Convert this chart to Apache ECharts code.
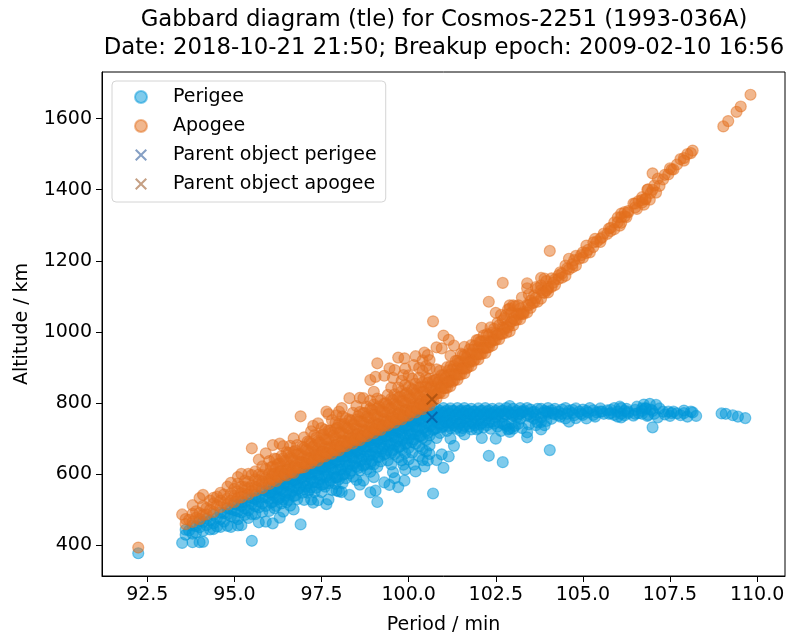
<!DOCTYPE html>
<html>
<head>
<meta charset="utf-8">
<title>Gabbard diagram</title>
<script src="https://cdn.jsdelivr.net/npm/echarts@6/dist/echarts.min.js"></script>
<style>
  html, body { margin: 0; padding: 0; background: #ffffff; }
  #chart { width: 790px; height: 640px; }
</style>
</head>
<body>
<div id="chart"></div>
<script>
// Fragment perigee altitudes (km), grouped by orbital period (min)
const perigeeGroups = [
  [92.24,[378]],
  [93.5,[407]],[93.6,[444,430]],[93.7,[442]],[93.8,[456,433,409]],[93.9,[454,436]],
  [94.0,[468,451,409]],[94.1,[466,441,410]],[94.2,[475,457]],[94.3,[470,445]],[94.4,[486,462,446]],
  [94.5,[477,453]],[94.6,[492,474,452]],[94.7,[491,467]],[94.8,[505,488,455]],[94.9,[502,482,452]],
  [95.0,[516,499,479]],[95.1,[514,496,474,456]],[95.2,[523,511,493,457]],[95.3,[522,504,486]],[95.4,[535,517,499,477]],
  [95.5,[533,517,488,413]],[95.6,[542,530,510,488]],[95.7,[539,523,507,465]],[95.8,[555,536,518,494]],[95.9,[553,535,511,467]],
  [96.0,[561,549,531,497]],[96.1,[560,542,522,462]],[96.2,[573,557,535,511]],[96.3,[573,556,534,478]],[96.4,[573,553,529,495]],
  [96.5,[587,570,548,522]],[96.6,[586,568,544,512]],[96.7,[598,583,563,539,501]],[96.8,[594,576,556,530]],[96.9,[604,587,567,459]],
  [97.0,[612,600,582,558,528]],[97.1,[610,594,574,548]],[97.2,[619,605,587,563,529]],[97.26,[520]],[97.3,[617,600,578,550]],
  [97.4,[632,617,599,577,527]],[97.5,[631,616,596,570,550]],[97.6,[640,629,613,591,565]],[97.64,[516]],[97.7,[638,621,601,575,529]],
  [97.8,[650,634,614,590,556]],[97.9,[651,635,615,591,573]],[97.93,[554]],[98.0,[661,650,634,612,586,552]],[98.08,[550]],
  [98.1,[659,643,623,599,575]],[98.2,[667,653,635,613,589]],[98.3,[666,648,628,602,542]],[98.4,[679,665,647,625,593]],
  [98.5,[680,664,646,622,584]],[98.6,[690,677,659,637,611,571]],[98.7,[688,670,650,624,582]],[98.8,[697,682,664,642,614]],
  [98.9,[695,677,655,629,607,549]],[99.0,[708,696,678,656,628,592]],[99.05,[554]],[99.1,[709,693,673,649,621,522]],
  [99.2,[719,704,686,664,636]],[99.3,[717,699,679,655,577]],[99.4,[725,711,691,669,639]],[99.45,[570]],
  [99.5,[724,706,686,660,628]],[99.55,[606]],[99.6,[737,723,705,683,657,589]],[99.7,[737,720,700,676,648,564]],
  [99.8,[748,735,717,695,669,639]],[99.85,[627]],[99.88,[582]],[99.9,[745,729,709,685,659,613]],
  [100.0,[755,740,722,700,674,642]],[100.1,[753,735,715,691,661]],[100.15,[627]],[100.2,[766,752,734,712,686,608]],
  [100.3,[766,751,731,707,679,651]],[100.4,[777,766,750,728,702,670,640]],[100.45,[622]],[100.5,[776,762,744,722,696,664]],
  [100.55,[639]],[100.6,[784,773,757,735,709,681,657]],
  [100.7,[781,766,748,725,546]],[100.8,[784,770,752,730,702,640]],[100.9,[778,762,741,716]],[100.95,[656]],
  [101.0,[786,772,756,736,618]],[101.1,[780,764,745,722]],[101.15,[650]],[101.2,[785,770,752,730,700]],
  [101.3,[778,760,738,680]],[101.4,[786,771,754,733]],[101.5,[780,764,745,722]],[101.6,[786,772,756,736,712]],
  [101.7,[779,762,742]],[101.8,[784,768,750,726]],[101.9,[777,760,738]],[102.0,[785,770,752,730]],
  [102.1,[779,762,744,702]],[102.2,[786,771,752]],[102.3,[780,764,746,652]],[102.4,[784,768,748]],
  [102.5,[778,760,700]],[102.6,[785,770,746]],[102.7,[779,762,742,634]],[102.8,[786,768,736]],
  [102.9,[792,772,728,719]],[103.0,[784,765,728]],[103.1,[778,760]],[103.2,[786,770,756]],[103.3,[780,775]],
  [103.4,[786,765,718,704]],[103.5,[782,762]],[103.6,[776,756]],[103.7,[784,746]],[103.8,[784,760,747,726]],
  [103.9,[778,738]],[104.0,[786,770,775]],[104.05,[668]],[104.1,[780,756]],[104.2,[784,768]],[104.3,[776,766]],
  [104.4,[782,770]],[104.5,[786,757]],[104.6,[778,748]],[104.7,[781,772]],[104.8,[785,758]],[104.9,[776]],
  [105.0,[782,767]],[105.1,[778,757]],[105.2,[786]],[105.3,[767,780]],[105.4,[774]],[105.5,[776,785]],
  [105.6,[770]],[105.7,[780]],[105.8,[781,772]],[105.9,[767,786]],[106.0,[762,776]],[106.06,[790]],
  [106.1,[786,770,760]],[106.2,[778,766]],[106.25,[784]],[106.3,[776,772]],[106.45,[765]],[106.5,[781,770]],
  [106.55,[790]],[106.6,[772]],[106.7,[785,778,770]],[106.75,[796]],[106.8,[786,784]],[106.85,[764]],
  [106.87,[767]],[106.92,[798]],[106.95,[782]],[107.0,[732,778]],[107.05,[770]],[107.1,[795]],[107.15,[760]],
  [107.2,[785]],[107.3,[776]],[107.35,[768]],[107.45,[776]],[107.5,[764]],[107.55,[772]],[107.6,[776]],
  [107.7,[771]],[107.8,[766]],[107.9,[779,772]],[108.0,[762]],[108.1,[776]],[108.15,[774]],[108.25,[764]],
  [108.98,[771]],[109.1,[770]],[109.3,[766]],[109.45,[762]],[109.66,[758]]
];

// Further perigee readings lying between the columns above
const perigeeGroupsHalfStep = [
  [96.05,[552,520]],[96.15,[548,505]],[96.25,[565,530]],[96.35,[560,518]],[96.45,[578,540]],
  [96.55,[574,528]],[96.65,[590,552]],[96.75,[584,540]],[96.85,[598,560]],[96.95,[592,548]],
  [97.05,[606,566]],[97.15,[602,556]],[97.25,[616,578]],[97.35,[610,562]],[97.45,[624,586]],
  [97.55,[620,572]],[97.65,[636,596]],[97.75,[630,582]],[97.85,[645,604]],[97.95,[640,592]],
  [98.05,[654,614]],[98.15,[650,600]],[98.25,[664,622]],[98.35,[660,610]],[98.45,[674,632]],
  [98.55,[668,618]],[98.65,[684,642]],[98.75,[678,628]],[98.85,[694,652]],[98.95,[688,638]],
  [99.05,[702,662]],[99.15,[698,648]],[99.25,[712,672]],[99.35,[708,658]],[99.45,[722,682]],
  [99.55,[716,668]],[99.65,[732,692]],[99.75,[726,678]],[99.85,[742,702]],[99.95,[736,688]],
  [100.05,[750,712]],[100.15,[746,698]],[100.25,[760,722]],[100.35,[756,708]],[100.45,[770,732]],
  [100.55,[764,716]],[100.65,[770,738]],[100.75,[760,728]],[100.85,[774,744]],[100.95,[766,732]],
  [101.05,[776,748]],[101.15,[768,736]],[101.25,[778,744]],[101.35,[766,728]],[101.45,[776,742]],
  [101.55,[768,730]],[101.65,[778,748]],[101.75,[770,734]],[101.85,[776,744]],[101.95,[766,726]],
  [102.05,[776,740]],[102.15,[768,732]],[102.25,[776,738]],[102.35,[770,728]],[102.45,[774,742]],
  [102.55,[768,734]],[102.65,[776,722]],[102.75,[770,740]],[102.85,[776,726]],[102.95,[768,744]],
  [103.05,[774,736]],[103.15,[768,742]],[103.25,[776,730]],[103.45,[770,740]],[103.55,[774]],
  [103.65,[768,738]],[103.85,[772]],[103.95,[776,750]],[104.15,[772]],[104.35,[762]],[104.55,[770]],
  [104.75,[766]],[104.95,[770]],[105.15,[774]],[105.35,[762]],[105.55,[776]],[105.75,[770]]
];

// Fragment apogee altitudes (km), grouped by orbital period (min)
const apogeeGroups = [
  [92.24,[394]],
  [93.5,[487]],[93.6,[460,474]],[93.7,[472]],[93.8,[466,489,513]],[93.9,[478,496]],
  [94.0,[474,491,533]],[94.1,[486,511,542]],[94.2,[487,505]],[94.3,[500,526]],[94.4,[494,518,534]],
  [94.5,[513,537]],[94.6,[508,526,548]],[94.7,[519,543]],[94.8,[515,532,565]],[94.9,[526,546,576]],
  [95.0,[522,539,559]],[95.1,[534,552,574,592]],[95.2,[535,547,565,601]],[95.3,[546,564,582]],[95.4,[543,561,579,601]],
  [95.5,[553,569,598,673]],[95.6,[554,566,586,608]],[95.7,[567,583,599,641]],[95.8,[561,580,598,622]],[95.9,[573,591,615,659]],
  [96.0,[573,585,603,637]],[96.1,[584,602,622,682]],[96.2,[581,597,619,643]],[96.3,[591,608,630,686]],[96.4,[601,621,645,679]],
  [96.5,[597,614,636,662]],[96.6,[606,624,648,680]],[96.7,[604,619,639,663,701]],[96.8,[618,636,656,682]],[96.9,[618,635,655,763]],
  [97.0,[620,632,650,674,704]],[97.1,[630,646,666,692]],[97.2,[631,645,663,687,721]],[97.26,[736]],[97.3,[643,660,682,710]],
  [97.4,[638,653,671,693,743]],[97.5,[649,664,684,710,730]],[97.6,[650,661,677,699,725]],[97.64,[776]],[97.7,[660,677,697,723,769]],
  [97.8,[658,674,694,718,752]],[97.9,[667,683,703,727,745]],[97.93,[766]],[98.0,[667,678,694,716,742,776]],[98.08,[786]],
  [98.1,[679,695,715,739,763]],[98.2,[679,693,711,733,757]],[98.3,[690,708,728,754,814]],[98.4,[687,701,719,741,773]],
  [98.5,[696,712,730,754,792]],[98.6,[696,709,727,749,775,815]],[98.7,[708,726,746,772,814]],[98.8,[707,722,740,762,790]],
  [98.9,[719,737,759,785,807,865]],[99.0,[716,728,746,768,796,832]],[99.05,[874]],[99.1,[725,741,761,785,813,912]],
  [99.2,[725,740,758,780,808]],[99.3,[737,755,775,799,877]],[99.4,[737,751,771,793,823]],[99.45,[898]],
  [99.5,[748,766,786,812,844]],[99.55,[871]],[99.6,[745,759,777,799,825,893]],[99.7,[755,772,792,816,844,928]],
  [99.8,[754,767,785,807,833,863]],[99.85,[879]],[99.88,[926]],[99.9,[765,781,801,825,851,897]],
  [100.0,[765,780,798,820,846,878]],[100.1,[777,795,815,839,869]],[100.15,[907]],[100.2,[774,788,806,828,854,932]],
  [100.3,[784,799,819,843,871,899]],[100.4,[783,794,810,832,858,890,920]],[100.45,[942]],[100.5,[792,806,824,846,872,904]],
  [100.55,[935]],[100.6,[794,805,821,843,869,897,921]],
  [100.7,[807,822,840,863,1030]],[100.8,[813,827,845,867,895,957]],[100.9,[829,845,866,891]],[100.95,[954]],
  [101.0,[828,842,858,878,990]],[101.1,[843,859,878,901]],[101.15,[978]],[101.2,[848,863,881,903,933]],
  [101.3,[864,882,904,962]],[101.4,[866,881,898,919]],[101.5,[881,897,916,939]],[101.6,[884,898,914,934,958]],
  [101.7,[901,918,938]],[101.8,[905,921,939,963]],[101.9,[922,939,961]],[102.0,[923,938,956,978]],
  [102.1,[939,956,974,1012]],[102.2,[941,956,975]],[102.3,[957,973,991,1085]],[102.4,[962,978,998]],
  [102.5,[978,996,1054]],[102.6,[980,995,1019]],[102.7,[996,1013,1033,1138]],[102.8,[998,1016,1048]],
  [102.9,[1002,1022,1066,1075]],[103.0,[1019,1038,1075]],[103.1,[1034,1052]],[103.2,[1036,1052,1066]],[103.3,[1051,1056]],
  [103.4,[1055,1076,1123,1137]],[103.5,[1068,1088]],[103.6,[1083,1103]],[103.7,[1085,1123]],[103.8,[1094,1118,1131,1152]],
  [103.9,[1110,1150]],[104.0,[1111,1127,1122]],[104.05,[1228]],[104.1,[1127,1151]],[104.2,[1132,1148]],[104.3,[1149,1159]],
  [104.4,[1153,1165]],[104.5,[1158,1187]],[104.6,[1176,1206]],[104.7,[1182,1191]],[104.8,[1187,1214]],[104.9,[1206]],
  [105.0,[1209,1224]],[105.1,[1222,1243]],[105.2,[1224]],[105.3,[1252,1239]],[105.4,[1254]],[105.5,[1262,1253]],
  [105.6,[1277]],[105.7,[1276]],[105.8,[1284,1293]],[105.9,[1308,1289]],[106.0,[1322,1308]],[106.06,[1299]],
  [106.1,[1307,1323,1333]],[106.2,[1325,1337]],[106.25,[1323]],[106.3,[1336,1340]],[106.45,[1361]],[106.5,[1350,1361]],
  [106.55,[1346]],[106.6,[1368]],[106.7,[1364,1371,1379]],[106.75,[1358]],[106.8,[1373,1375]],[106.85,[1400]],
  [106.87,[1401]],[106.92,[1372]],[106.95,[1391]],[107.0,[1446,1400]],[107.05,[1412]],[107.1,[1392]],[107.15,[1431]],
  [107.2,[1411]],[107.3,[1429]],[107.35,[1442]],[107.45,[1443]],[107.5,[1460]],[107.55,[1457]],[107.6,[1457]],
  [107.7,[1471]],[107.8,[1486]],[107.9,[1482,1489]],[108.0,[1500]],[108.1,[1503]],[108.15,[1510]],
  [109.03,[1578]],[109.17,[1593]],[109.41,[1619]],[109.53,[1634]],[109.81,[1667]]
];

// Further apogee readings lying between the columns above
const apogeeGroupsHalfStep = [
  [96.05,[588,620]],[96.15,[601,644]],[96.25,[594,629]],[96.35,[609,651]],[96.45,[600,638]],
  [96.55,[614,660]],[96.65,[607,645]],[96.75,[623,667]],[96.85,[619,657]],[96.95,[634,678]],
  [97.05,[630,670]],[97.15,[644,690]],[97.25,[639,677]],[97.35,[655,703]],[97.45,[651,689]],
  [97.55,[664,712]],[97.65,[658,698]],[97.75,[674,722]],[97.85,[668,709]],[97.95,[683,731]],
  [98.05,[678,718]],[98.15,[692,742]],[98.25,[688,730]],[98.35,[701,751]],[98.45,[697,739]],
  [98.55,[713,763]],[98.65,[706,748]],[98.75,[722,772]],[98.85,[716,758]],[98.95,[731,781]],
  [99.05,[727,767]],[99.15,[740,790]],[99.25,[736,776]],[99.35,[750,800]],[99.45,[745,785]],
  [99.55,[761,809]],[99.65,[755,795]],[99.75,[770,818]],[99.85,[764,804]],[99.95,[780,828]],
  [100.05,[775,813]],[100.15,[789,837]],[100.25,[785,823]],[100.35,[798,846]],[100.45,[794,832]],
  [100.55,[809,857]],[100.65,[813,845]],[100.75,[832,864]],[100.85,[828,858]],[100.95,[845,879]],
  [101.05,[843,871]],[101.15,[860,892]],[101.25,[860,894]],[101.35,[881,919]],[101.45,[880,914]],
  [101.55,[898,936]],[101.65,[897,927]],[101.75,[915,951]],[101.85,[918,950]],[101.95,[937,977]],
  [102.05,[937,973]],[102.15,[954,990]],[102.25,[956,994]],[102.35,[971,1013]],[102.45,[977,1009]],
  [102.55,[992,1026]],[102.65,[994,1048]],[102.75,[1009,1039]],[102.85,[1013,1063]],[102.95,[1030,1054]],
  [103.05,[1034,1072]],[103.15,[1049,1075]],[103.25,[1051,1097]],[103.45,[1075,1105]],[103.55,[1081]],
  [103.65,[1096,1126]],[103.85,[1111]],[103.95,[1117,1143]],[104.15,[1139]],[104.35,[1168]],[104.55,[1179]],
  [104.75,[1202]],[104.95,[1216]],[105.15,[1231]],[105.35,[1262]],[105.55,[1266]],[105.75,[1291]]
];

// Parent object (Cosmos-2251) at the breakup epoch
const parentPeriod = [100.67];
const parentPerigee = [760];
const parentApogee = [811];

// Axis tick positions
const periodTicks = [92.5, 95.0, 97.5, 100.0, 102.5, 105.0, 107.5, 110.0];
const altitudeTicks = [400, 600, 800, 1000, 1200, 1400, 1600];

const FONT = 'DejaVu Sans';
const BLUE = '#0098da';
const ORANGE = '#e4701e';
const CROSS_BLUE = '#0b3f8a';
const CROSS_ORANGE = '#8c3f08';
// Filled "x" glyph used for the parent object markers
const CROSS = 'path://M0,1.2L1.2,0L5,3.8L8.8,0L10,1.2L6.2,5L10,8.8L8.8,10L5,6.2L1.2,10L0,8.8L3.8,5Z';

function flatten(...groupLists) {
  const pts = [];
  groupLists.forEach(groups => groups.forEach(([p, alts]) => alts.forEach(a => pts.push([p, a]))));
  return pts;
}

const perigeePoints = flatten(perigeeGroups, perigeeGroupsHalfStep);
const apogeePoints = flatten(apogeeGroups, apogeeGroupsHalfStep);
const parentPerigeePoints = parentPeriod.map((p, i) => [p, parentPerigee[i]]);
const parentApogeePoints = parentPeriod.map((p, i) => [p, parentApogee[i]]);

const chart = echarts.init(document.getElementById('chart'), null, { renderer: 'canvas' });

const axisText = { fontFamily: FONT, fontSize: 19, color: '#000' };

chart.setOption({
  animation: false,
  backgroundColor: '#ffffff',
  title: {
    text: 'Gabbard diagram (tle) for Cosmos-2251 (1993-036A)\nDate: 2018-10-21 21:50; Breakup epoch: 2009-02-10 16:56',
    left: 444,
    top: 6,
    padding: 0,
    textAlign: 'center',
    textStyle: { fontFamily: FONT, fontSize: 22.8, fontWeight: 'normal', color: '#000', lineHeight: 28 }
  },
  legend: {
    orient: 'vertical',
    left: 112,
    top: 81,
    padding: [6, 9, 8, 22],
    itemGap: 9,
    itemWidth: 12,
    itemHeight: 12,
    backgroundColor: 'rgba(255,255,255,0.8)',
    borderColor: '#d4d4d4',
    borderWidth: 1,
    borderRadius: 4,
    selectedMode: false,
    textStyle: { fontFamily: FONT, fontSize: 19, color: '#000', lineHeight: 20, padding: [0, 0, 0, 21] },
    data: [
      { name: 'Perigee', icon: 'circle', itemStyle: { color: BLUE, opacity: 0.5 } },
      { name: 'Apogee', icon: 'circle', itemStyle: { color: ORANGE, opacity: 0.5 } },
      { name: 'Parent object perigee', icon: CROSS, itemStyle: { color: CROSS_BLUE, opacity: 0.5 } },
      { name: 'Parent object apogee', icon: CROSS, itemStyle: { color: CROSS_ORANGE, opacity: 0.5 } }
    ]
  },
  grid: {
    left: 102, right: 5, top: 72, bottom: 62,
    show: true, borderColor: '#000', borderWidth: 1, backgroundColor: 'transparent'
  },
  xAxis: {
    type: 'value',
    min: 91.2,
    max: 110.8,
    name: 'Period / min',
    nameLocation: 'middle',
    nameGap: 40,
    nameTextStyle: axisText,
    axisLine: { onZero: false, lineStyle: { color: '#000', width: 1 } },
    axisTick: { show: true, length: 6, lineStyle: { color: '#000' }, customValues: periodTicks },
    axisLabel: { ...axisText, margin: 10, customValues: periodTicks, formatter: v => Number(v).toFixed(1) },
    splitLine: { show: false }
  },
  yAxis: {
    type: 'value',
    min: 314,
    max: 1731,
    name: 'Altitude / km',
    nameLocation: 'middle',
    nameGap: 70,
    nameRotate: 90,
    nameTextStyle: axisText,
    axisLine: { onZero: false, lineStyle: { color: '#000', width: 1 } },
    axisTick: { show: true, length: 6, lineStyle: { color: '#000' }, customValues: altitudeTicks },
    axisLabel: { ...axisText, margin: 10, customValues: altitudeTicks, formatter: v => String(v) },
    splitLine: { show: false }
  },
  series: [
    {
      name: 'Perigee', type: 'scatter', data: perigeePoints,
      symbol: 'circle', symbolSize: 11,
      itemStyle: { color: BLUE, opacity: 0.5, borderColor: BLUE, borderWidth: 1.2 },
      emphasis: { disabled: true }
    },
    {
      name: 'Apogee', type: 'scatter', data: apogeePoints,
      symbol: 'circle', symbolSize: 11,
      itemStyle: { color: ORANGE, opacity: 0.5, borderColor: ORANGE, borderWidth: 1.2 },
      emphasis: { disabled: true }
    },
    {
      name: 'Parent object perigee', type: 'scatter', data: parentPerigeePoints,
      symbol: CROSS, symbolSize: 12,
      itemStyle: { color: CROSS_BLUE, opacity: 0.55 },
      emphasis: { disabled: true }
    },
    {
      name: 'Parent object apogee', type: 'scatter', data: parentApogeePoints,
      symbol: CROSS, symbolSize: 12,
      itemStyle: { color: CROSS_ORANGE, opacity: 0.55 },
      emphasis: { disabled: true }
    }
  ]
});
</script>
</body>
</html>
